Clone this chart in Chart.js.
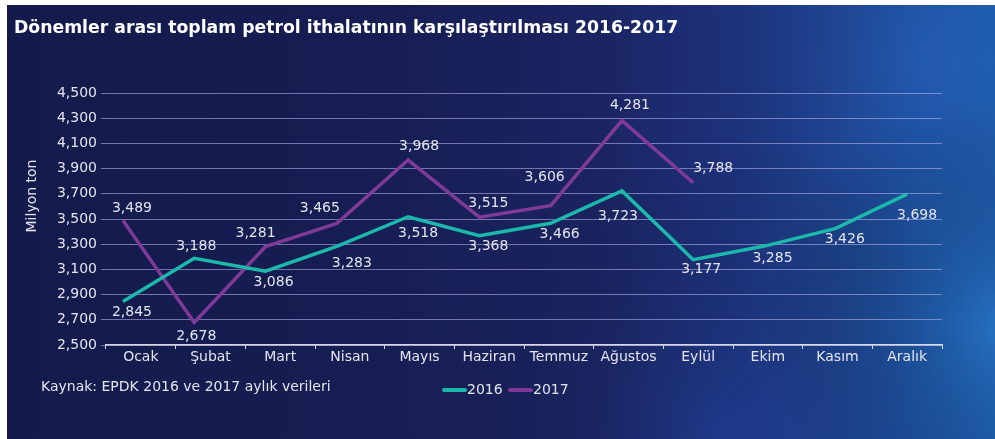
<!DOCTYPE html>
<html>
<head>
<meta charset="utf-8">
<script src="https://cdn.jsdelivr.net/npm/chart.js@4/dist/chart.umd.min.js"></script>
<style>
  html, body { margin: 0; padding: 0; background: #fff; }
  canvas { display: block; }
</style>
</head>
<body>
<canvas id="myChart" width="995" height="439"></canvas>
<script>
// Veriler (milyon ton)
const months = ['Ocak', 'Şubat', 'Mart', 'Nisan', 'Mayıs', 'Haziran', 'Temmuz', 'Ağustos', 'Eylül', 'Ekim', 'Kasım', 'Aralık'];
const imports2016 = [2.845, 3.188, 3.086, 3.283, 3.518, 3.368, 3.466, 3.723, 3.177, 3.285, 3.426, 3.698];
const imports2017 = [3.489, 2.678, 3.281, 3.465, 3.968, 3.515, 3.606, 4.281, 3.788];
const yTickValues = [2.5, 2.7, 2.9, 3.1, 3.3, 3.5, 3.7, 3.9, 4.1, 4.3, 4.5];

// Etiket kaydırmaları (nokta etrafında, piksel)
const labelShift2016 = [[9, 11], [2, -12], [8, 11], [15, 17], [10, 17], [9, 11], [9, 11], [-4, 25], [8, 10], [8, 12], [9, 11], [10, 21]];
const labelShift2017 = [[9, -12], [2, 14], [-10, -13], [-17, -15], [11, -14], [9, -14], [-6, -28], [8, -15], [20, -14]];

const TEAL = '#1bb8ab';
const PURPLE = '#7e3a96';
const TEXT = '#e4e4ee';
const FONT = "'DejaVu Sans', sans-serif";

const fmt = v => Number(v).toFixed(3).replace('.', ',');

const decor = {
    id: 'decor',
    beforeDraw(chart) {
        const ctx = chart.ctx;
        ctx.save();
        ctx.fillStyle = '#ffffff';
        ctx.fillRect(0, 0, 995, 439);
        // arka plan
        const g = ctx.createLinearGradient(7, 0, 995, 0);
        g.addColorStop(0, '#141a4b');
        g.addColorStop(0.35, '#161d52');
        g.addColorStop(0.6, '#1b2462');
        g.addColorStop(0.74, '#1e3380');
        g.addColorStop(0.84, '#1f4696');
        g.addColorStop(0.92, '#1e55aa');
        g.addColorStop(1, '#1f60b5');
        ctx.fillStyle = g;
        ctx.fillRect(7, 5, 988, 434);
        const glows = [
            [995, 330, 230, 'rgba(50,140,215,0.35)'],
            [930, 60, 260, 'rgba(55,105,195,0.22)'],
            [720, 439, 300, 'rgba(35,75,170,0.3)']
        ];
        glows.forEach(([x, y, r, c]) => {
            const rg = ctx.createRadialGradient(x, y, 0, x, y, r);
            rg.addColorStop(0, c);
            rg.addColorStop(1, 'rgba(0,0,0,0)');
            ctx.fillStyle = rg;
            ctx.fillRect(7, 5, 988, 434);
        });
        ctx.restore();
    },
    afterDatasetsDraw(chart) {
        const ctx = chart.ctx;
        ctx.save();
        ctx.font = '14px ' + FONT;
        ctx.fillStyle = TEXT;
        ctx.textAlign = 'center';
        ctx.textBaseline = 'middle';
        [[imports2016, labelShift2016], [imports2017, labelShift2017]].forEach(([vals, shift], di) => {
            const meta = chart.getDatasetMeta(di);
            meta.data.forEach((pt, i) => {
                ctx.fillText(fmt(vals[i]), pt.x + shift[i][0], pt.y + shift[i][1]);
            });
        });
        ctx.restore();
    },
    afterDraw(chart) {
        const ctx = chart.ctx;
        ctx.save();
        ctx.textBaseline = 'middle';
        // başlık
        ctx.fillStyle = '#ffffff';
        ctx.font = 'bold 17.25px ' + FONT;
        ctx.textAlign = 'left';
        ctx.fillText('Dönemler arası toplam petrol ithalatının karşılaştırılması 2016-2017', 14, 29);
        // kaynak
        ctx.fillStyle = TEXT;
        ctx.font = '14px ' + FONT;
        ctx.fillText('Kaynak: EPDK 2016 ve 2017 aylık verileri', 41, 387);
        // lejant
        ctx.lineWidth = 4;
        ctx.lineCap = 'round';
        [['2016', TEAL, 444], ['2017', PURPLE, 510]].forEach(([t, c, x]) => {
            ctx.strokeStyle = c;
            ctx.beginPath();
            ctx.moveTo(x, 390);
            ctx.lineTo(x + 21, 390);
            ctx.stroke();
            ctx.fillText(t, x + 23, 390);
        });
        // y ekseni başlığı
        ctx.translate(32, 196);
        ctx.rotate(-Math.PI / 2);
        ctx.textAlign = 'center';
        ctx.fillText('Milyon ton', 0, 0);
        ctx.restore();
    }
};

const ctx = document.getElementById('myChart').getContext('2d');
new Chart(ctx, {
    type: 'line',
    data: {
        datasets: [{
            label: '2016',
            data: imports2016.map((v, i) => ({ x: i, y: v })),
            borderColor: TEAL,
            borderWidth: 3.5,
            pointRadius: 0,
            tension: 0,
            xAxisID: 'x',
            yAxisID: 'y'
        }, {
            label: '2017',
            data: imports2017.map((v, i) => ({ x: i, y: v })),
            borderColor: PURPLE,
            borderWidth: 3.5,
            pointRadius: 0,
            tension: 0,
            xAxisID: 'x',
            yAxisID: 'y'
        }]
    },
    options: {
        responsive: false,
        animation: false,
        layout: { padding: { top: 93, right: 53, left: 0, bottom: 0 } },
        plugins: {
            legend: { display: false },
            tooltip: { enabled: false }
        },
        scales: {
            x: {
                type: 'linear',
                display: false,
                min: -0.238,
                max: 11.49
            },
            months: {
                type: 'category',
                labels: months,
                position: 'bottom',
                offset: true,
                grid: {
                    offset: true,
                    drawOnChartArea: false,
                    color: 'rgba(235,235,245,0.9)',
                    tickLength: 4
                },
                border: { color: 'rgba(235,235,245,0.9)', width: 1.5 },
                ticks: {
                    color: TEXT,
                    font: { family: FONT, size: 14 },
                    padding: 0,
                    maxRotation: 0
                },
                afterFit: scale => { scale.height = 94; }
            },
            y: {
                min: 2.5,
                max: 4.5,
                afterBuildTicks: scale => { scale.ticks = yTickValues.map(v => ({ value: v })); },
                ticks: {
                    callback: v => fmt(v),
                    color: TEXT,
                    font: { family: FONT, size: 14 },
                    padding: 4
                },
                grid: {
                    color: 'rgba(190,190,245,0.55)',
                    tickLength: 5
                },
                border: { display: false },
                afterFit: scale => { scale.width = 106; }
            }
        }
    },
    plugins: [decor]
});
</script>
</body>
</html>
